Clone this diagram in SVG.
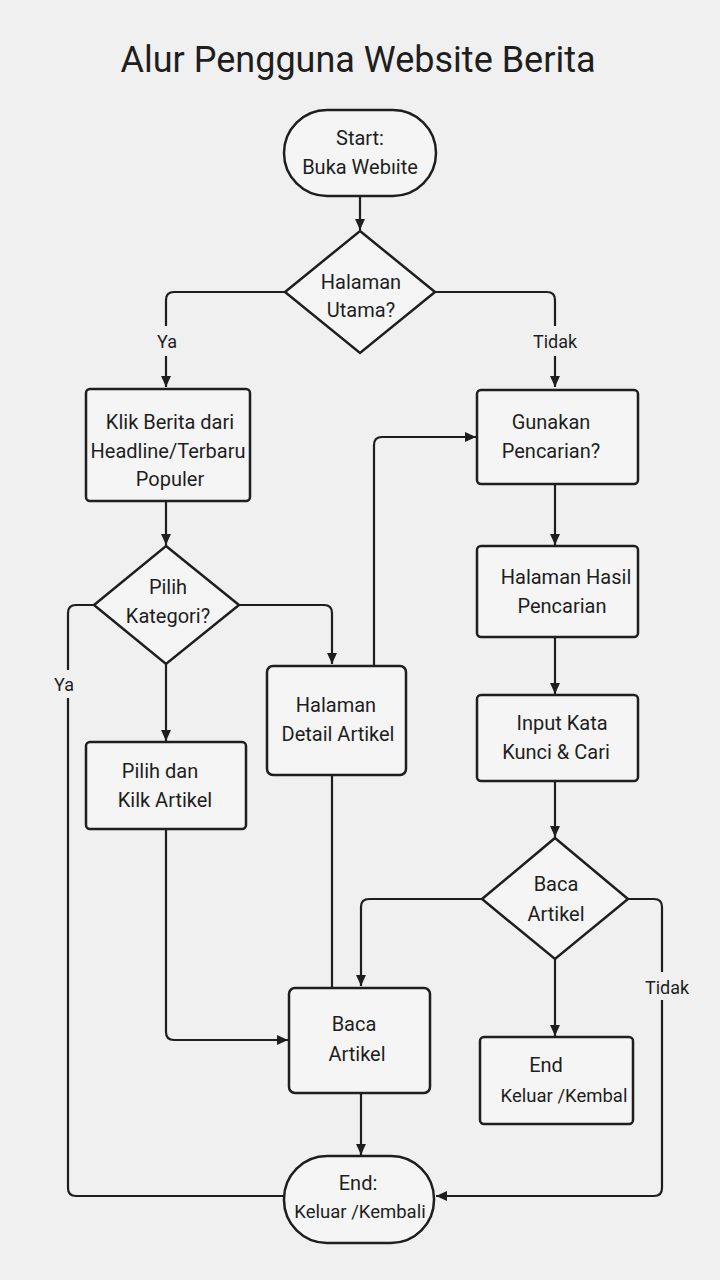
<svg xmlns="http://www.w3.org/2000/svg" width="720" height="1280" viewBox="0 0 720 1280">
<defs>
<marker id="ah" viewBox="0 0 10 10" refX="10" refY="5" markerWidth="11" markerHeight="11" markerUnits="userSpaceOnUse" orient="auto">
<path d="M0,0.5 L10,5 L0,9.5 z" fill="#1e1e1e"/>
</marker>
<style>
.n{fill:#f5f5f5;stroke:#1e1e1e;stroke-width:2.5}
.t{font-family:Roboto,"Liberation Sans",sans-serif;font-size:20px;fill:#1e1e1e;text-anchor:middle}
.s{font-size:18.5px}
.c{fill:none;stroke:#1e1e1e;stroke-width:2.2}
.a{marker-end:url(#ah)}
.l{font-family:Roboto,"Liberation Sans",sans-serif;font-size:18px;fill:#1e1e1e;text-anchor:middle}
</style>
</defs>
<rect width="720" height="1280" fill="#f0f0f0"/>
<text x="358" y="72" class="t" style="font-size:36px">Alur Pengguna Website Berita</text>

<g id="connectors">
<path class="c a" d="M360,196 V230"/>
<path class="c" d="M285,292 H174 Q166,292 166,300 V326"/>
<path class="c a" d="M166,356 V387"/>
<path class="c" d="M435,292 H547 Q555,292 555,300 V326"/>
<path class="c a" d="M555,356 V387"/>
<path class="c a" d="M166,501 V545"/>
<path class="c" d="M94,605 H76 Q68,605 68,613 V670"/>
<path class="c" d="M68,698 V1188 Q68,1196 76,1196 H285"/>
<path class="c a" d="M239,605 H324 Q332,605 332,613 V664"/>
<path class="c a" d="M166,664 V741"/>
<path class="c a" d="M166,829 V1032 Q166,1040 174,1040 H288"/>
<path class="c a" d="M374,666 V445 Q374,437 382,437 H476"/>
<path class="c" d="M332,775 V988"/>
<path class="c a" d="M555,484 V545"/>
<path class="c a" d="M555,637 V694"/>
<path class="c a" d="M555,781 V837"/>
<path class="c a" d="M482,899 H369 Q361,899 361,907 V986"/>
<path class="c a" d="M555,959 V1036"/>
<path class="c" d="M628,899 H654 Q662,899 662,907 V972"/>
<path class="c a" d="M662,1000 V1188 Q662,1196 654,1196 H436"/>
<path class="c a" d="M361,1093 V1155"/>
<text x="167" y="348" class="l">Ya</text>
<text x="555" y="348" class="l">Tidak</text>
<text x="64" y="691" class="l">Ya</text>
<text x="667" y="994" class="l">Tidak</text>
</g>

<g id="start">
<rect class="n" x="284" y="110" width="152" height="86" rx="43"/>
<text x="360" y="145" class="t">Start:</text>
<text x="360" y="174" class="t">Buka Webıite</text>
</g>
<g id="d-halaman-utama">
<polygon class="n" points="360,231 435,292 360,353 285,292"/>
<text x="361" y="289" class="t">Halaman</text>
<text x="361" y="317" class="t">Utama?</text>
</g>
<g id="klik-berita">
<rect class="n" x="86" y="389" width="164" height="112" rx="4"/>
<text x="170" y="429" class="t">Klik Berita dari</text>
<text x="168" y="458" class="t">Headline/Terbaru</text>
<text x="170" y="486" class="t">Populer</text>
</g>
<g id="d-pilih-kategori">
<polygon class="n" points="166,546 239,605 166,664 94,605"/>
<text x="168" y="594" class="t">Pilih</text>
<text x="168" y="623" class="t">Kategori?</text>
</g>
<g id="pilih-dan-klik">
<rect class="n" x="86" y="742" width="160" height="87" rx="4"/>
<text x="160" y="778" class="t">Pilih dan</text>
<text x="165" y="807" class="t">Kilk Artikel</text>
</g>
<g id="halaman-detail">
<rect class="n" x="267" y="666" width="139" height="109" rx="6"/>
<text x="336" y="712" class="t">Halaman</text>
<text x="338" y="741" class="t">Detail Artikel</text>
</g>
<g id="gunakan-pencarian">
<rect class="n" x="477" y="390" width="161" height="94" rx="4"/>
<text x="551" y="429" class="t">Gunakan</text>
<text x="551" y="458" class="t">Pencarian?</text>
</g>
<g id="hasil-pencarian">
<rect class="n" x="477" y="546" width="161" height="91" rx="4"/>
<text x="566" y="584" class="t">Halaman Hasil</text>
<text x="562" y="613" class="t">Pencarian</text>
</g>
<g id="input-kata">
<rect class="n" x="477" y="695" width="161" height="86" rx="4"/>
<text x="562" y="730" class="t">Input Kata</text>
<text x="556" y="759" class="t">Kunci &amp; Cari</text>
</g>
<g id="d-baca-artikel">
<polygon class="n" points="555,838 628,899 555,959 482,899"/>
<text x="556" y="891" class="t">Baca</text>
<text x="556" y="921" class="t">Artikel</text>
</g>
<g id="baca-artikel">
<rect class="n" x="289" y="988" width="141" height="105" rx="6"/>
<text x="354" y="1031" class="t">Baca</text>
<text x="357" y="1061" class="t">Artikel</text>
</g>
<g id="end-box">
<rect class="n" x="480" y="1037" width="153" height="87" rx="4"/>
<text x="546" y="1072" class="t">End</text>
<text x="564" y="1102" class="t s">Keluar /Kembal</text>
</g>
<g id="end">
<rect class="n" x="284" y="1156" width="150" height="87" rx="43"/>
<text x="358" y="1190" class="t">End:</text>
<text x="360" y="1218" class="t s">Keluar /Kembali</text>
</g>
</svg>
